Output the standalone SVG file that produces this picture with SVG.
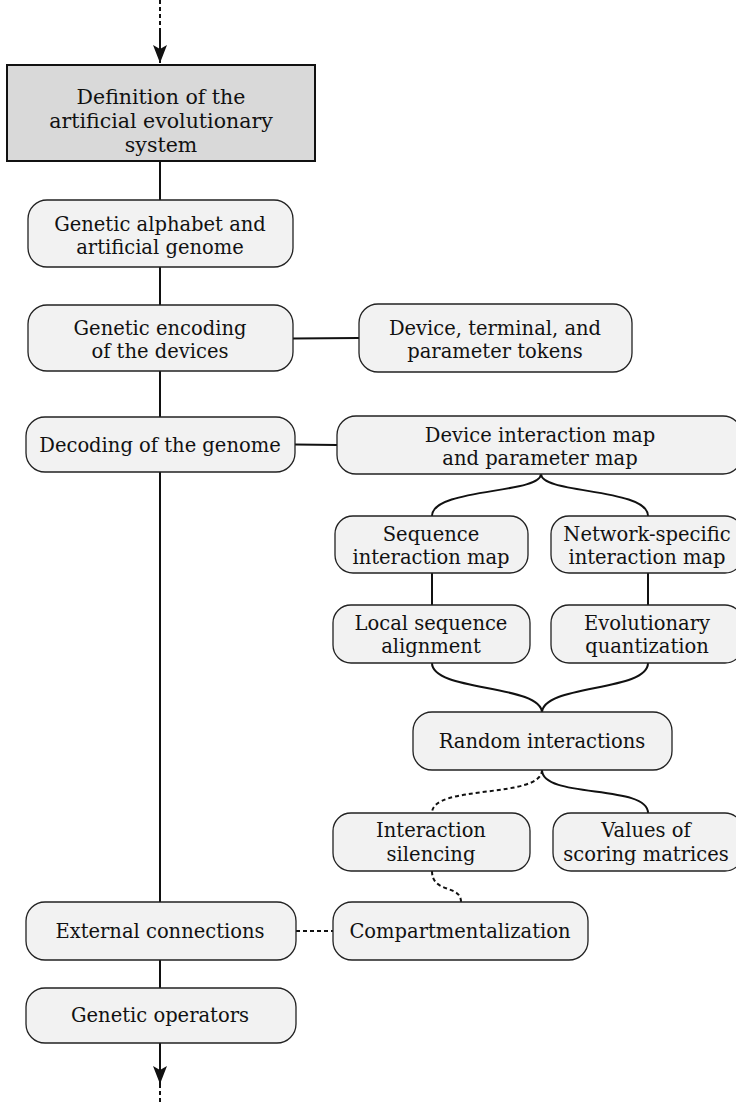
<svg xmlns="http://www.w3.org/2000/svg" width="736" height="1104" viewBox="0 0 736 1104">
  <style>
    .box { fill: #f2f2f2; stroke: #222; stroke-width: 1.3; }
    .main { fill: #d9d9d9; stroke: #111; stroke-width: 2; }
    text { font-family: "DejaVu Serif", "Liberation Serif", serif; font-size: 19.5px; fill: #111; text-anchor: middle; }
    .big { font-size: 20.5px; }
    .ln { fill: none; stroke: #111; stroke-width: 2; }
    .dot { fill: none; stroke: #111; stroke-width: 2; stroke-dasharray: 4 3; }
  </style>
  <defs>
    <marker id="arrow" viewBox="0 0 18 14" refX="18" refY="7" markerWidth="18" markerHeight="14" markerUnits="userSpaceOnUse" orient="auto">
      <path d="M0,0 L18,7 L0,14 L4,7 Z" fill="#111"/>
    </marker>
  </defs>

  <!-- connectors -->
  <g id="connectors">
    <line class="dot" x1="160" y1="0" x2="160" y2="32"/>
    <line class="ln" x1="160" y1="32" x2="160" y2="63" marker-end="url(#arrow)"/>
    <line class="ln" x1="160" y1="161" x2="160" y2="200"/>
    <line class="ln" x1="160" y1="267" x2="160" y2="305"/>
    <line class="ln" x1="160" y1="371" x2="160" y2="417"/>
    <line class="ln" x1="160" y1="472" x2="160" y2="902"/>
    <line class="ln" x1="160" y1="960" x2="160" y2="988"/>
    <line class="ln" x1="160" y1="1043" x2="160" y2="1084" marker-end="url(#arrow)"/>
    <line class="dot" x1="160" y1="1084" x2="160" y2="1104"/>
    <path class="ln" d="M293,338.5 L359,338"/>
    <path class="ln" d="M295,444.5 L337,445"/>
    <path class="ln" d="M541,474 C541,494 432,488 432,516"/>
    <path class="ln" d="M541,474 C541,494 648,488 648,516"/>
    <line class="ln" x1="432" y1="573" x2="432" y2="605"/>
    <line class="ln" x1="648" y1="573" x2="648" y2="605"/>
    <path class="ln" d="M432,663 C432,692 542,684 542,713"/>
    <path class="ln" d="M648,663 C648,692 542,684 542,713"/>
    <path class="dot" d="M542,770 C542,799 432,784 432,813"/>
    <path class="ln" d="M542,770 C542,799 648,784 648,813"/>
    <path class="dot" d="M432,871 C432,894 461,884 461,902"/>
    <line class="dot" x1="296" y1="931" x2="333" y2="931"/>
  </g>

  <g id="n-definition">
    <rect class="main" x="7" y="65" width="308" height="96"/>
    <text class="big" x="161" y="104">Definition of the</text>
    <text class="big" x="161" y="128">artificial evolutionary</text>
    <text class="big" x="161" y="152">system</text>
  </g>
  <g id="n-alphabet">
    <rect class="box" x="28" y="200" width="265" height="67" rx="19"/>
    <text x="160" y="231">Genetic alphabet and</text>
    <text x="160" y="254">artificial genome</text>
  </g>
  <g id="n-encoding">
    <rect class="box" x="28" y="305" width="265" height="66" rx="19"/>
    <text x="160" y="335">Genetic encoding</text>
    <text x="160" y="358">of the devices</text>
  </g>
  <g id="n-tokens">
    <rect class="box" x="359" y="304" width="273" height="68" rx="19"/>
    <text x="495" y="335">Device, terminal, and</text>
    <text x="495" y="358">parameter tokens</text>
  </g>
  <g id="n-decoding">
    <rect class="box" x="26" y="417" width="269" height="55" rx="19"/>
    <text x="160" y="452">Decoding of the genome</text>
  </g>
  <g id="n-map">
    <rect class="box" x="337" y="416" width="405" height="58" rx="19"/>
    <text x="540" y="442">Device interaction map</text>
    <text x="540" y="465">and parameter map</text>
  </g>
  <g id="n-seqmap">
    <rect class="box" x="335" y="516" width="193" height="57" rx="18"/>
    <text x="431" y="541">Sequence</text>
    <text x="431" y="564">interaction map</text>
  </g>
  <g id="n-netmap">
    <rect class="box" x="551" y="516" width="192" height="57" rx="18"/>
    <text x="647" y="541">Network-specific</text>
    <text x="647" y="564">interaction map</text>
  </g>
  <g id="n-align">
    <rect class="box" x="333" y="605" width="197" height="58" rx="18"/>
    <text x="431" y="630">Local sequence</text>
    <text x="431" y="653">alignment</text>
  </g>
  <g id="n-quant">
    <rect class="box" x="551" y="605" width="192" height="58" rx="18"/>
    <text x="647" y="630">Evolutionary</text>
    <text x="647" y="653">quantization</text>
  </g>
  <g id="n-random">
    <rect class="box" x="413" y="712" width="259" height="58" rx="19"/>
    <text x="542" y="748">Random interactions</text>
  </g>
  <g id="n-silencing">
    <rect class="box" x="333" y="813" width="197" height="58" rx="18"/>
    <text x="431" y="837">Interaction</text>
    <text x="431" y="861">silencing</text>
  </g>
  <g id="n-scoring">
    <rect class="box" x="553" y="813" width="190" height="58" rx="18"/>
    <text x="646" y="837">Values of</text>
    <text x="646" y="861">scoring matrices</text>
  </g>
  <g id="n-external">
    <rect class="box" x="26" y="902" width="270" height="58" rx="19"/>
    <text x="160" y="938">External connections</text>
  </g>
  <g id="n-compart">
    <rect class="box" x="333" y="902" width="255" height="58" rx="19"/>
    <text x="460" y="938">Compartmentalization</text>
  </g>
  <g id="n-operators">
    <rect class="box" x="26" y="988" width="270" height="55" rx="19"/>
    <text x="160" y="1022">Genetic operators</text>
  </g>
</svg>
